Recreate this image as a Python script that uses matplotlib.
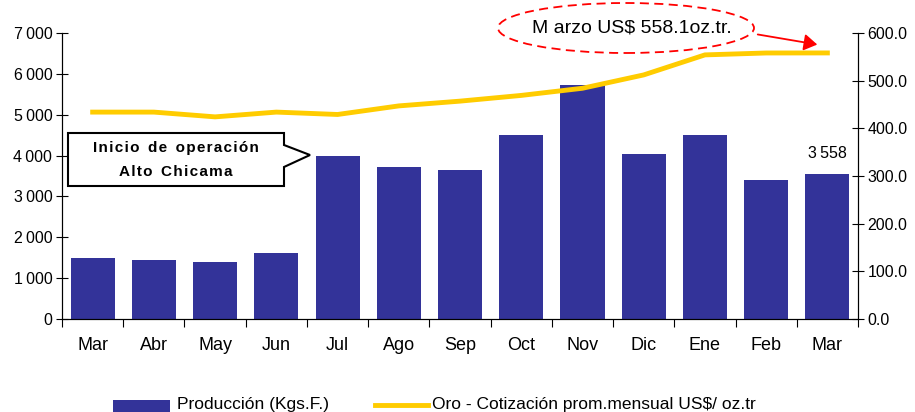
import matplotlib.pyplot as plt
from matplotlib.patches import Ellipse, Polygon, Rectangle, FancyArrowPatch
from matplotlib.lines import Line2D

plt.rcParams["font.family"] = ["Liberation Sans", "DejaVu Sans"]

meses = ["Mar", "Abr", "May", "Jun", "Jul", "Ago", "Sep", "Oct", "Nov", "Dic", "Ene", "Feb", "Mar"]
produccion = [1500, 1450, 1400, 1620, 3980, 3710, 3640, 4500, 5720, 4030, 4500, 3410, 3558]
oro = [434, 434, 424, 434, 429, 447, 457, 469, 484, 512, 554, 558, 558.1]

bar_color = "#333399"
line_color = "#FFCC00"

fig = plt.figure(figsize=(9.15, 4.12), dpi=100)
ax = fig.add_axes([0.0678, 0.2257, 0.8699, 0.6943])
ax2 = ax.twinx()

x = list(range(len(meses)))
ax.bar(x, produccion, width=0.72, color=bar_color, zorder=2)
ax2.plot(x, oro, color=line_color, lw=3.5, solid_joinstyle="round", zorder=3)

ax.set_xlim(-0.5, len(meses) - 0.5)
ax.set_ylim(0, 7000)
ax2.set_ylim(0, 600)

ax.set_yticks(range(0, 7001, 1000))
ax.set_yticklabels([f"{v:,}".replace(",", "\u2009") for v in range(0, 7001, 1000)], fontsize=11.5)
ax2.set_yticks(range(0, 601, 100))
ax2.set_yticklabels([f"{v:.1f}" for v in range(0, 601, 100)], fontsize=11.5)

ax.set_xticks(x)
ax.set_xticklabels(meses, fontsize=13)
ax.set_xticks([i + 0.5 for i in range(-1, len(meses))], minor=True)
ax.tick_params(axis="x", which="major", length=0, pad=13)
ax.tick_params(axis="x", which="minor", length=6, direction="out", width=0.8)
ax.tick_params(axis="y", length=8, direction="inout", width=0.8, pad=3)
ax2.tick_params(axis="y", length=8, direction="inout", width=0.8, pad=3)

for a in (ax, ax2):
    a.spines["top"].set_visible(False)
    for s in ("left", "right", "bottom"):
        a.spines[s].set_linewidth(0.8)
ax.set_zorder(ax2.get_zorder() - 1)
ax.patch.set_visible(False)

# last value label
ax.text(x[-1], produccion[-1] + 300, f"{produccion[-1]:,}".replace(",", "\u2009"),
        ha="center", va="bottom", fontsize=11.5)

# callout "Inicio de operación"
W, H = 915, 412
def fp(px, py):
    return (px / W, 1 - py / H)

def spaced(s):
    return "  ".join("\u200a".join(w) for w in s.split())

box = [fp(68, 133), fp(284, 133), fp(284, 145), fp(310, 155), fp(284, 167),
       fp(284, 186), fp(68, 186)]
fig.patches.append(Polygon(box, closed=True, transform=fig.transFigure,
                           facecolor="white", edgecolor="black", lw=1.5, zorder=5))
fig.text(*fp(176, 148), spaced("Inicio de operación"),
         ha="center", va="center", fontsize=11, fontweight="bold", zorder=6)
fig.text(*fp(176, 172), spaced("Alto Chicama"),
         ha="center", va="center", fontsize=11, fontweight="bold", zorder=6)

# ellipse annotation
fig.patches.append(Ellipse(fp(626, 28), 256 / W, 50 / H, transform=fig.transFigure,
                           facecolor="white", edgecolor="red", lw=1.3, ls=(0, (5, 3)), zorder=5))
fig.text(*fp(632, 28), "M arzo US$ 558.1oz.tr.", ha="center", va="center",
         fontsize=14, zorder=6)
fig.patches.append(FancyArrowPatch(fp(755, 34), fp(820, 45), transform=fig.transFigure,
                                   arrowstyle="-|>,head_length=8,head_width=5",
                                   color="red", lw=1.3, zorder=6))

# legend
fig.patches.append(Rectangle(fp(113, 412), 57 / W, 12 / H, transform=fig.transFigure,
                             facecolor=bar_color, edgecolor="none"))
fig.text(*fp(177, 405), "Producción (Kgs.F.)", ha="left", va="center", fontsize=12.5)
fig.lines.append(Line2D([375 / W, 428 / W], [1 - 405 / H] * 2, transform=fig.transFigure,
                        color=line_color, lw=3.5))
fig.text(*fp(432, 405), "Oro - Cotización prom.mensual US$/ oz.tr", ha="left",
         va="center", fontsize=12.5)

fig.savefig("out.png", dpi=100)
